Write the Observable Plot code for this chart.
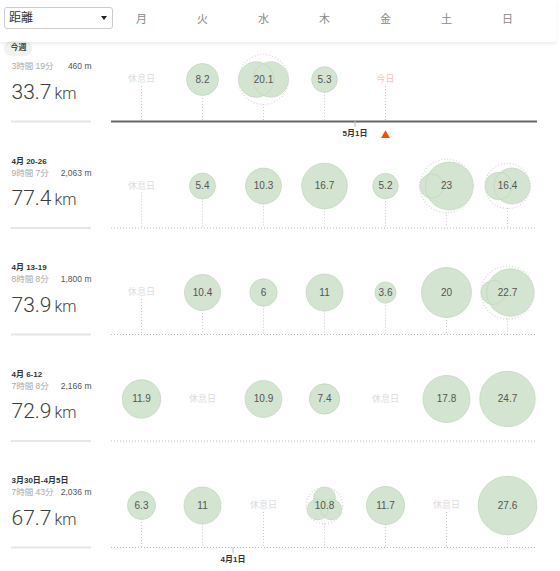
<!DOCTYPE html>
<html><head><meta charset="utf-8">
<script src="https://cdn.jsdelivr.net/npm/d3@7"></script>
<script src="https://cdn.jsdelivr.net/npm/@observablehq/plot@0.6"></script>
<style>
body{margin:0;background:#fff;}
#wrap{position:relative;width:560px;height:571px;overflow:hidden;font-family:"Liberation Sans","Noto Sans CJK JP",sans-serif;background:#fff;}
#chart{position:absolute;left:0;top:0;z-index:1}
#pill{position:absolute;left:4px;top:41px;width:28px;height:15px;border-radius:8px;background:#f1f1f1;z-index:0}
#hdr{position:absolute;left:0;top:0;width:556px;height:42px;box-shadow:0 2px 3px rgba(0,0,0,0.07);z-index:2;pointer-events:none}
#sel{position:absolute;left:4px;top:7px;width:103px;height:20px;border:1px solid #ccc;border-radius:3px;z-index:3;background:#fff;font-size:12px;color:#333;line-height:20px;padding-left:4px}
#caret{position:absolute;right:5px;top:8px;width:0;height:0;border-left:3.5px solid transparent;border-right:3.5px solid transparent;border-top:4px solid #222}
</style></head>
<body>
<div id="wrap">
  <div id="pill"></div>
  <div id="chart"></div>
  <div id="hdr"></div>
  <div id="sel">距離<span id="caret"></span></div>
</div>
<script>
// ---- data ----
const days = ["月","火","水","木","金","土","日"];
const weekLabels = ["今週","4月 20-26","4月 13-19","4月 6-12","3月30日-4月5日"];
const weekTimes = ["3時間 19分","9時間 7分","8時間 8分","7時間 8分","7時間 43分"];
const weekElev = ["460 m","2,063 m","1,800 m","2,166 m","2,036 m"];
const weekKm = [33.7, 77.4, 73.9, 72.9, 67.7];
// daily km: 0 = rest day (休息日), null = no entry yet
const dayKm0 = [0, 8.2, 20.1, 5.3, null, null, null];
const dayKm1 = [0, 5.4, 10.3, 16.7, 5.2, 23, 16.4];
const dayKm2 = [0, 10.4, 6, 11, 3.6, 20, 22.7];
const dayKm3 = [11.9, 0, 10.9, 7.4, 0, 17.8, 24.7];
const dayKm4 = [6.3, 11, 0, 10.8, 11.7, 0, 27.6];
// days with several activities
const splitWeek = [0, 1, 1, 2, 4];
const splitDay = [2, 5, 6, 6, 3];
const splitParts = [[10.1, 10.0], [4.6, 18.4], [6.0, 10.4], [4.7, 18.0], [3.8, 3.5, 3.5]];
const todayWeek = 0, todayDay = 4;
const monthLabels = ["5月1日", "4月1日"];
const monthWeek = [0, 4];
const monthDay = [4, 2];
const stemlessWeeks = [3];

// ---- layout ----
const xRange = [141, 507], yRange = [79, 505];
const pxPerDay = (xRange[1] - xRange[0]) / 6;
const pxPerRow = (yRange[1] - yRange[0]) / 4;
const rDomain = [0, 27.6], rRange = [0, 29.3];
const rPx = v => rRange[1] * Math.sqrt(v / rDomain[1]);
const baseOff = 42;

const weekIdx = d3.range(weekLabels.length);
const dayKm = [dayKm0, dayKm1, dayKm2, dayKm3, dayKm4];
const cells = weekIdx.flatMap(w => dayKm[w].map((km, d) => ({w, d, km})));
const splits = splitWeek.map((w, i) => ({w, d: splitDay[i], parts: splitParts[i], km: dayKm[w][splitDay[i]]}));
const isSplit = c => splits.some(s => s.w === c.w && s.d === c.d);
const angleSets = {2: [180, 0], 3: [-90, 150, 30]};
const subs = splits.flatMap(s => s.parts.map((p, i) => {
  const a = angleSets[s.parts.length][i] * Math.PI / 180;
  const off = rPx(s.km) - rPx(p);
  return {x: s.d + off * Math.cos(a) / pxPerDay, y: s.w + off * Math.sin(a) / pxPerRow, km: p};
}));
const active = cells.filter(c => c.km > 0);
const circles = active.filter(c => !isSplit(c)).map(c => ({x: c.d, y: c.w, km: c.km})).concat(subs);
const rest = cells.filter(c => c.km === 0);
const stems = [];
for (const c of cells) {
  if (stemlessWeeks.includes(c.w)) continue;
  let top = null;
  if (c.km > 0) top = rPx(c.km);
  else if (c.km === 0 || (c.w === todayWeek && c.d === todayDay)) top = 7;
  if (top !== null) stems.push({x: c.d, y1: c.w + top / pxPerRow, y2: c.w + baseOff / pxPerRow});
}
const months = monthLabels.map((l, i) => ({label: l, w: monthWeek[i], x: monthDay[i] - 0.5}));

const sans = "'Liberation Sans','Noto Sans CJK JP',sans-serif";
const plot = Plot.plot({
  width: 560, height: 571,
  marginLeft: 11, marginRight: 23, marginTop: 26, marginBottom: 10,
  style: {background: "none", fontFamily: sans, fontSize: "10px", overflow: "visible"},
  x: {domain: [0, 6], range: xRange, axis: null},
  y: {domain: [0, 4], range: yRange, axis: null},
  r: {type: "sqrt", domain: rDomain, range: rRange},
  marks: [
    Plot.axisX({anchor: "top", ticks: d3.range(7), tickFormat: i => days[i], tickSize: 0, tickPadding: 4, fontSize: 11, color: "#888", fill: "#888"}),
    // week baselines
    Plot.ruleY(weekIdx.filter(w => w !== todayWeek), {y: w => w, dy: baseOff, insetLeft: 100, stroke: "#bbb", strokeDasharray: "1,2"}),
    Plot.ruleY([todayWeek], {y: w => w, dy: baseOff, insetLeft: 100, stroke: "#666", strokeWidth: 2}),
    // left panel underline
    Plot.ruleY(weekIdx, {y: w => w, dy: baseOff, insetRight: 446, stroke: "#e6e6e6", strokeWidth: 2}),
    // stems
    Plot.ruleX(stems, {x: "x", y1: "y1", y2: "y2", stroke: "#cacaca", strokeDasharray: "1,2"}),
    // circles
    Plot.dot(circles, {x: "x", y: "y", r: "km", fill: "#d3e4d0", stroke: null}),
    Plot.dot(circles, {x: "x", y: "y", r: "km", fill: "none", stroke: "#c2d8be", strokeWidth: 0.8}),
    Plot.dot(splits, {x: "d", y: "w", r: "km", fill: "none", stroke: "#dcdcdc", strokeDasharray: "1,2"}),
    Plot.text(active, {x: "d", y: "w", text: c => String(c.km), fontSize: 10, fill: "#555"}),
    // rest / today
    Plot.text(rest, {x: "d", y: "w", text: () => "休息日", fontSize: 9, fill: "#dcdcdc"}),
    Plot.text([{d: todayDay, w: todayWeek}], {x: "d", y: "w", text: () => "今日", fontSize: 9, fill: "#f6c3be"}),
    Plot.dot([{d: todayDay, w: todayWeek}], {x: "d", y: "w", dy: baseOff + 14, symbol: "triangle", r: 3.3, fill: "#fc4c02", stroke: null}),
    // month markers
    Plot.ruleX(months, {x: "x", y1: m => m.w + baseOff / pxPerRow, y2: m => m.w + (baseOff + 6) / pxPerRow, stroke: "#bbb"}),
    Plot.text(months, {x: "x", y: "w", dy: baseOff + 12, text: "label", fontSize: 8, fontWeight: "bold", fill: "#333"}),
    // left panel
    Plot.text([todayWeek], {y: w => w, frameAnchor: "left", dx: 7, dy: -32, textAnchor: "middle", text: w => weekLabels[w], fontSize: 8, fontWeight: "bold", fill: "#444"}),
    Plot.text(weekIdx.filter(w => w !== todayWeek), {y: w => w, frameAnchor: "left", dy: -25, textAnchor: "start", text: w => weekLabels[w], fontSize: 8, fontWeight: "bold", fill: "#333"}),
    Plot.text(weekIdx, {y: w => w, frameAnchor: "left", dy: -13, textAnchor: "start", text: w => weekTimes[w], fontSize: 8.5, fill: "#a8a8a8"}),
    Plot.text(weekIdx, {y: w => w, frameAnchor: "left", dx: 80, dy: -13, textAnchor: "end", text: w => weekElev[w], fontSize: 8.5, fill: "#555"}),
    Plot.text(weekIdx, {y: w => w, frameAnchor: "left", dy: 19, lineAnchor: "bottom", textAnchor: "start", text: w => String(weekKm[w]), fontSize: 21, fontWeight: 300, fontFamily: "Roboto, sans-serif", fill: "#3c3c3c"}),
    Plot.text(weekIdx, {y: w => w, frameAnchor: "left", dx: 43, dy: 19, lineAnchor: "bottom", textAnchor: "start", text: () => "km", fontSize: 16, fontWeight: 300, fontFamily: "Roboto, sans-serif", fill: "#444"})
  ]
});
document.getElementById("chart").appendChild(plot);
</script>
</body></html>
